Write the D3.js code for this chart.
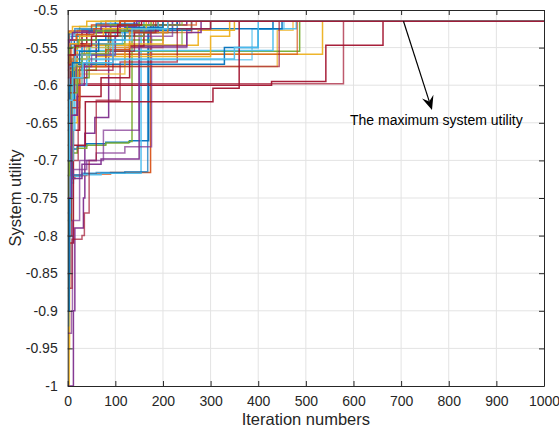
<!DOCTYPE html>
<html>
<head>
<meta charset="utf-8">
<script src="https://cdn.jsdelivr.net/npm/d3@7"></script>
<style>
  body { margin: 0; background: #fff; }
  text { font-family: Arial, "Liberation Sans", Helvetica, sans-serif; fill: #262626; }
</style>
</head>
<body>
<svg id="chart" width="559" height="435"></svg>
<script>
// Axis ticks
const xTicks = d3.range(0, 1001, 100);
const yTicks = [-1, -0.95, -0.9, -0.85, -0.8, -0.75, -0.7, -0.65, -0.6, -0.55, -0.5];

// Best utility found so far in each run, as [iteration, utility] change points.
// The value holds until the next change point; every run ends at the optimum.
const runsBlue = [
  [[0,-0.72],[10,-0.685],[20,-0.681],[40,-0.678],[80,-0.676],[130,-0.674],[170,-0.527],[260,-0.515]],
  [[0,-0.78],[4,-0.722],[10,-0.719],[30,-0.717],[60,-0.716],[120,-0.715],[168,-0.53],[230,-0.515]],
  [[0,-0.64],[6,-0.58],[30,-0.527],[100,-0.525],[431,-0.515]],
  [[0,-0.6],[3,-0.545],[20,-0.527],[60,-0.52],[100,-0.515]],
  [[0,-0.66],[5,-0.59],[20,-0.572],[329,-0.55],[400,-0.525],[450,-0.515]],
  [[0,-0.55],[2,-0.532],[15,-0.525],[60,-0.518],[150,-0.515]],
  [[0,-0.9],[3,-0.75],[8,-0.62],[14,-0.54],[80,-0.527],[140,-0.515]],
  [[0,-0.58],[2,-0.55],[8,-0.535],[45,-0.528],[180,-0.52],[230,-0.515]],
  [[0,-0.7],[3,-0.6],[10,-0.57],[25,-0.555],[65,-0.54],[120,-0.523],[200,-0.515]]
];
const runsOrange = [
  [[0,-0.8],[5,-0.724],[15,-0.72],[40,-0.718],[90,-0.716],[174,-0.52],[230,-0.515]],
  [[0,-0.7],[3,-0.58],[10,-0.575],[120,-0.55],[200,-0.53],[260,-0.515]],
  [[0,-0.6],[2,-0.56],[15,-0.547],[100,-0.535],[160,-0.52],[200,-0.515]],
  [[0,-0.62],[4,-0.568],[20,-0.559],[482,-0.515]],
  [[0,-0.54],[3,-0.528],[50,-0.52],[120,-0.515]],
  [[0,-0.9],[2,-0.6],[8,-0.55],[30,-0.53],[80,-0.515]],
  [[0,-0.68],[6,-0.62],[25,-0.575],[80,-0.553],[130,-0.53],[180,-0.515]],
  [[0,-0.62],[3,-0.57],[12,-0.56],[35,-0.545],[90,-0.528],[150,-0.52],[270,-0.515]],
  [[0,-0.56],[2,-0.54],[18,-0.533],[55,-0.525],[110,-0.515]]
];
const runsYellow = [
  [[0,-1.0],[3,-0.75],[6,-0.62],[15,-0.58],[60,-0.559],[535,-0.515]],
  [[0,-0.95],[4,-0.7],[10,-0.6],[30,-0.575],[440,-0.527],[473,-0.515]],
  [[0,-0.7],[5,-0.6],[20,-0.547],[274,-0.527],[350,-0.515]],
  [[0,-0.58],[3,-0.54],[20,-0.53],[90,-0.52],[160,-0.515]],
  [[0,-0.75],[4,-0.65],[20,-0.565],[60,-0.562],[300,-0.535],[340,-0.515]],
  [[0,-0.88],[2,-0.7],[10,-0.63],[25,-0.585],[120,-0.545],[200,-0.515]],
  [[0,-0.53],[10,-0.522],[40,-0.515]],
  [[0,-0.64],[3,-0.58],[15,-0.565],[40,-0.55],[130,-0.53],[210,-0.515]],
  [[0,-0.57],[4,-0.545],[25,-0.535],[75,-0.525],[165,-0.515]]
];
const runsPurple = [
  [[0,-1.0],[12,-0.9],[15,-0.79],[33,-0.75],[36,-0.664],[57,-0.643],[86,-0.53],[190,-0.515]],
  [[0,-0.93],[8,-0.9],[10,-0.78],[25,-0.7],[60,-0.69],[120,-0.682],[176,-0.535],[220,-0.515]],
  [[0,-0.77],[6,-0.724],[30,-0.705],[70,-0.698],[150,-0.548],[250,-0.53],[280,-0.515]],
  [[0,-0.68],[5,-0.6],[20,-0.56],[90,-0.55],[250,-0.525],[300,-0.515]],
  [[0,-0.62],[4,-0.54],[30,-0.528],[190,-0.52],[250,-0.515]],
  [[0,-0.85],[3,-0.72],[12,-0.712],[40,-0.7],[75,-0.66],[150,-0.52],[170,-0.515]],
  [[0,-0.75],[8,-0.64],[20,-0.6],[35,-0.57],[60,-0.535],[140,-0.515]],
  [[0,-0.63],[3,-0.59],[18,-0.575],[50,-0.56],[100,-0.535],[175,-0.52],[235,-0.515]],
  [[0,-0.56],[2,-0.54],[10,-0.53],[70,-0.522],[145,-0.515]]
];
const runsGreen = [
  [[0,-0.78],[8,-0.69],[20,-0.684],[40,-0.68],[80,-0.677],[128,-0.675],[135,-0.54],[200,-0.515]],
  [[0,-0.62],[5,-0.56],[20,-0.547],[240,-0.525],[300,-0.515]],
  [[0,-0.6],[8,-0.565],[40,-0.555],[487,-0.515]],
  [[0,-0.55],[3,-0.53],[25,-0.522],[70,-0.515]],
  [[0,-0.68],[4,-0.6],[15,-0.57],[80,-0.545],[120,-0.525],[190,-0.515]],
  [[0,-0.9],[2,-0.65],[8,-0.6],[22,-0.58],[60,-0.535],[110,-0.515]],
  [[0,-0.72],[3,-0.61],[20,-0.59],[45,-0.545],[90,-0.52],[150,-0.515]],
  [[0,-0.65],[2,-0.6],[12,-0.575],[30,-0.558],[85,-0.535],[160,-0.52],[240,-0.515]],
  [[0,-0.57],[3,-0.55],[22,-0.54],[60,-0.528],[125,-0.52],[175,-0.515]]
];
const runsCyan = [
  [[0,-0.85],[5,-0.73],[12,-0.721],[30,-0.719],[70,-0.717],[154,-0.525],[220,-0.515]],
  [[0,-0.64],[4,-0.59],[20,-0.566],[387,-0.525],[454,-0.515]],
  [[0,-0.6],[4,-0.57],[15,-0.554],[431,-0.525],[480,-0.515]],
  [[0,-0.56],[3,-0.535],[30,-0.527],[150,-0.52],[200,-0.515]],
  [[0,-0.77],[5,-0.66],[15,-0.6],[40,-0.56],[100,-0.53],[160,-0.515]],
  [[0,-0.92],[2,-0.8],[5,-0.7],[12,-0.6],[30,-0.55],[90,-0.515]],
  [[0,-0.65],[3,-0.58],[12,-0.565],[350,-0.55],[400,-0.515]],
  [[0,-0.61],[3,-0.575],[15,-0.56],[48,-0.545],[115,-0.525],[190,-0.515]],
  [[0,-0.7],[4,-0.62],[10,-0.59],[32,-0.57],[95,-0.54],[135,-0.525],[210,-0.515]]
];
const runsRed = [
  [[0,-0.87],[4,-0.81],[12,-0.66],[25,-0.6],[428,-0.595],[542,-0.547],[662,-0.515]],
  [[0,-0.8],[8,-0.7],[22,-0.598],[579,-0.515]],
  [[0,-0.75],[6,-0.68],[37,-0.622],[305,-0.604],[360,-0.515]],
  [[0,-0.87],[9,-0.805],[30,-0.8],[35,-0.77],[45,-0.7],[60,-0.62],[110,-0.569],[230,-0.525],[300,-0.515]],
  [[0,-0.72],[5,-0.64],[20,-0.615],[70,-0.59],[130,-0.548],[160,-0.53],[210,-0.515]],
  [[0,-0.7],[8,-0.63],[25,-0.575],[444,-0.515]],
  [[0,-0.6],[5,-0.545],[40,-0.53],[110,-0.515]],
  [[0,-0.66],[3,-0.61],[14,-0.59],[40,-0.58],[95,-0.555],[140,-0.53],[185,-0.515]],
  [[0,-0.59],[2,-0.56],[16,-0.548],[50,-0.535],[105,-0.52],[155,-0.515]]
];

const groups = [
  { runs: runsBlue,   color: "#0072BD" },
  { runs: runsOrange, color: "#D95319" },
  { runs: runsYellow, color: "#EDB120" },
  { runs: runsPurple, color: "#7E2F8E" },
  { runs: runsGreen,  color: "#77AC30" },
  { runs: runsCyan,   color: "#4DBEEE" },
  { runs: runsRed,    color: "#A2142F" }
];

const maxIter = 1000;
const svg = d3.select("#chart");
const plot = { left: 67.7, right: 544, top: 10, bottom: 386 };

const x = d3.scaleLinear().domain([0, maxIter]).range([plot.left, plot.right]);
const y = d3.scaleLinear().domain([-1, -0.5]).range([plot.bottom, plot.top]);

// Grid
const grid = svg.append("g").attr("stroke", "#e3e3e3").attr("stroke-width", 1);
grid.selectAll("line.gx").data(xTicks.slice(1, -1)).join("line")
  .attr("x1", d => x(d)).attr("x2", d => x(d))
  .attr("y1", plot.top).attr("y2", plot.bottom);
grid.selectAll("line.gy").data(yTicks.slice(1, -1)).join("line")
  .attr("y1", d => y(d)).attr("y2", d => y(d))
  .attr("x1", plot.left).attr("x2", plot.right);

// Runs, drawn in interleaved colour order
const line = d3.line()
  .x(d => x(d[0])).y(d => y(d[1]))
  .curve(d3.curveStepAfter);

svg.append("clipPath").attr("id", "clip").append("rect")
  .attr("x", plot.left).attr("y", plot.top - 2)
  .attr("width", plot.right - plot.left).attr("height", plot.bottom - plot.top + 2);
const lines = svg.append("g")
  .attr("fill", "none")
  .attr("stroke-width", 1.5)
  .attr("clip-path", "url(#clip)");

const runsPerColour = d3.max(groups, g => g.runs.length);
for (let i = 0; i < runsPerColour; i++) {
  groups.forEach(g => {
    if (!g.runs[i]) return;
    const pts = g.runs[i].slice();
    pts.push([maxIter, pts[pts.length - 1][1]]);
    lines.append("path")
      .attr("d", line(pts))
      .attr("stroke", g.color)
      .attr("stroke-opacity", i % 2 === 1 ? 0.7 : 0.95);
  });
}

// Axes (box with inward ticks on all four sides)
const axisColor = "#262626";
const fmt = v => String(+v.toFixed(2));
const ax = svg.append("g");

const bottomAxis = d3.axisBottom(x).tickValues(xTicks).tickSizeInner(-5).tickSizeOuter(0).tickPadding(10).tickFormat(d3.format("d"));
const topAxis = d3.axisTop(x).tickValues(xTicks).tickSizeInner(-5).tickSizeOuter(0).tickFormat("");
const leftAxis = d3.axisLeft(y).tickValues(yTicks).tickSizeInner(-5).tickSizeOuter(0).tickPadding(10).tickFormat(fmt);
const rightAxis = d3.axisRight(y).tickValues(yTicks).tickSizeInner(-5).tickSizeOuter(0).tickFormat("");

[
  [bottomAxis, `translate(0,${plot.bottom})`],
  [topAxis, `translate(0,${plot.top})`],
  [leftAxis, `translate(${plot.left},0)`],
  [rightAxis, `translate(${plot.right},0)`]
].forEach(([a, t]) => {
  const g = ax.append("g").attr("transform", t).call(a);
  g.select(".domain").attr("stroke", axisColor).attr("stroke-width", 1);
  g.selectAll(".tick line").attr("stroke", axisColor);
  g.selectAll(".tick text").attr("fill", axisColor)
    .style("font-size", "14px")
    .style("font-family", "Arial, 'Liberation Sans', Helvetica, sans-serif");
});

// Axis titles
svg.append("text")
  .attr("x", (plot.left + plot.right) / 2).attr("y", 425)
  .attr("text-anchor", "middle")
  .style("font-size", "16.5px")
  .text("Iteration numbers");

svg.append("text")
  .attr("transform", `translate(21,${(plot.top + plot.bottom) / 2}) rotate(-90)`)
  .attr("text-anchor", "middle")
  .style("font-size", "16.5px")
  .text("System utility");

// Annotation arrow pointing at the converged value
const start = [x(705), y(-0.515)];
const tip = [432, 110];
const dx = tip[0] - start[0], dy = tip[1] - start[1];
const len = Math.hypot(dx, dy);
const ux = dx / len, uy = dy / len, nx = -uy, ny = ux;
const headLen = 14, headHalf = 6, notch = 9;
const back = [tip[0] - headLen * ux, tip[1] - headLen * uy];
const inner = [tip[0] - notch * ux, tip[1] - notch * uy];

svg.append("line")
  .attr("x1", start[0]).attr("y1", start[1])
  .attr("x2", inner[0]).attr("y2", inner[1])
  .attr("stroke", "#000").attr("stroke-width", 1.2);
svg.append("path")
  .attr("d", d3.line()([
    tip,
    [back[0] + headHalf * nx, back[1] + headHalf * ny],
    inner,
    [back[0] - headHalf * nx, back[1] - headHalf * ny]
  ]) + "Z")
  .attr("fill", "#000");

svg.append("text")
  .attr("x", 350).attr("y", 125)
  .style("font-size", "14px")
  .style("fill", "#000")
  .text("The maximum system utility");
</script>
</body>
</html>
